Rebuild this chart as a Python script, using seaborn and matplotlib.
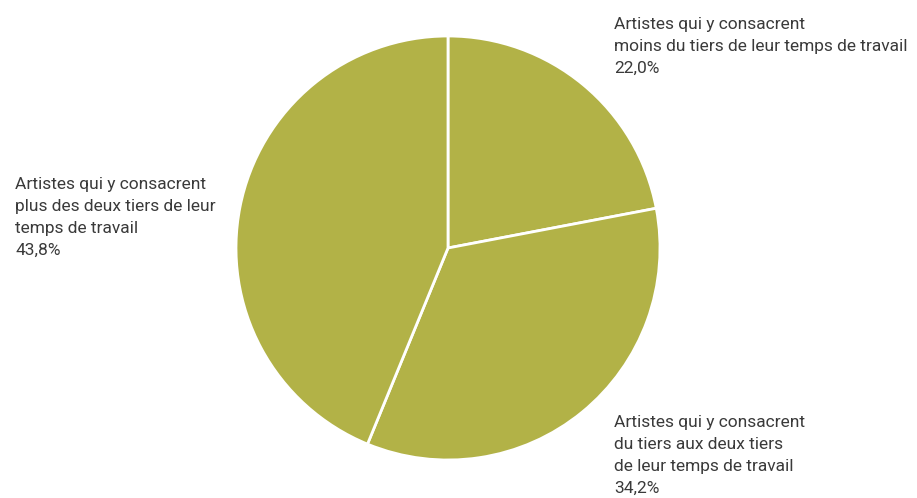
import matplotlib
matplotlib.use("Agg")
import matplotlib.pyplot as plt
import seaborn as sns

categories = [
    "Artistes qui y consacrent\nmoins du tiers de leur temps de travail",
    "Artistes qui y consacrent\ndu tiers aux deux tiers\nde leur temps de travail",
    "Artistes qui y consacrent\nplus des deux tiers de leur\ntemps de travail",
]
values = [22.0, 34.2, 43.8]
value_labels = ["22,0%", "34,2%", "43,8%"]

sns.set_theme(style="white")
plt.rcParams['font.family'] = ['Roboto', 'DejaVu Sans']

W, H = 917, 498
fig = plt.figure(figsize=(W / 100, H / 100), dpi=100)
cx, cy, r = 448, 248, 212
ax = fig.add_axes([(cx - r) / W, (H - cy - r) / H, 2 * r / W, 2 * r / H])

ax.pie(values, colors=["#b2b247"] * 3, startangle=90, counterclock=False,
       radius=1, wedgeprops=dict(edgecolor="white", linewidth=2))
ax.set_xlim(-1.0, 1.0)
ax.set_ylim(-1.0, 1.0)
ax.set_aspect("equal")
ax.axis("off")

# label positions in pixels (left, top)
label_pos = [(614, 17), (614, 415), (15, 177)]
for (x, y), cat, val in zip(label_pos, categories, value_labels):
    fig.text(x / W, 1 - y / H, cat + "\n" + val, ha="left", va="top",
             fontsize=12.5, color="#3a3a3a", linespacing=1.58)

fig.savefig("out.png", dpi=100, facecolor="white")
